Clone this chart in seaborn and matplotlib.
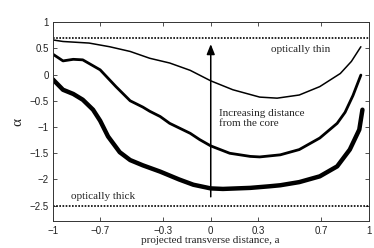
import matplotlib
matplotlib.use("Agg")
import matplotlib.pyplot as plt
import seaborn as sns
import pandas as pd

# curve data (projected transverse distance a vs alpha)
thin_x = [-1, -0.935, -0.77, -0.64, -0.51, -0.386, -0.26, -0.13, 0, 0.14, 0.31, 0.42, 0.56, 0.69, 0.82, 0.89, 0.95]
thin_y = [0.66, 0.63, 0.60, 0.53, 0.44, 0.31, 0.22, 0.08, -0.12, -0.29, -0.43, -0.45, -0.39, -0.23, 0.02, 0.25, 0.53]

medium_x = [-1, -0.935, -0.87, -0.81, -0.70, -0.60, -0.51, -0.43, -0.386, -0.32, -0.26, -0.13, -0.07, 0,
            0.12, 0.25, 0.31, 0.44, 0.56, 0.69, 0.80, 0.85, 0.90, 0.95]
medium_y = [0.39, 0.26, 0.29, 0.28, 0.09, -0.23, -0.50, -0.62, -0.70, -0.80, -0.93, -1.12, -1.24, -1.36,
            -1.50, -1.56, -1.57, -1.53, -1.43, -1.21, -0.93, -0.72, -0.40, -0.01]

thick_x = [-1, -0.935, -0.87, -0.81, -0.745, -0.70, -0.65, -0.576, -0.51, -0.43, -0.32, -0.2, -0.11, 0,
           0.077, 0.25, 0.37, 0.44, 0.56, 0.69, 0.80, 0.88, 0.94, 0.96]
thick_y = [-0.09, -0.29, -0.37, -0.48, -0.67, -0.88, -1.18, -1.48, -1.63, -1.73, -1.85, -2.0, -2.10, -2.17,
           -2.18, -2.16, -2.13, -2.11, -2.05, -1.94, -1.75, -1.43, -1.05, -0.67]

thin_limit = 0.7
thick_limit = -2.5
x_ticks = [-1, -0.7, -0.3, 0, 0.3, 0.7, 1]
y_ticks = [-2.5, -2, -1.5, -1, -0.5, 0, 0.5, 1]

sns.set_style("white")
plt.rcParams['font.family'] = ['Liberation Sans', 'DejaVu Sans']
plt.rcParams['axes.unicode_minus'] = True

fig = plt.figure(figsize=(3.74, 2.48), dpi=100)
ax = fig.add_axes([0.141, 0.107, 0.845, 0.804])

curves = [(thin_x, thin_y, 1.1), (medium_x, medium_y, 2.0), (thick_x, thick_y, 3.2)]
for xs, ys, lw in curves:
    df = pd.DataFrame({'a': xs, 'alpha': ys})
    sns.lineplot(data=df, x='a', y='alpha', ax=ax, color='black', linewidth=lw,
                 sort=False, estimator=None, solid_joinstyle='round', solid_capstyle='round')

# optically thin / thick limits
for lim in [thin_limit, thick_limit]:
    ax.axhline(lim, color='black', linewidth=1.2, linestyle=(0, (1, 0.9)))

# arrow
ax.annotate('', xy=(0, 0.58), xytext=(0, -2.33),
            arrowprops=dict(arrowstyle='-|>,head_length=0.6,head_width=0.24',
                            color='black', lw=1.1, shrinkA=0, shrinkB=0))

serif = ['Liberation Serif', 'DejaVu Serif']
ax.text(0.57, 0.48, 'optically thin', ha='center', va='center', fontsize=8, family=serif)
ax.text(-0.884, -2.33, 'optically thick', ha='left', va='center', fontsize=8, family=serif)
ax.text(0.052, -0.84, 'Increasing distance\nfrom the core', ha='left', va='center',
        fontsize=8, family=serif, linespacing=1.1)

ax.set_xlim(-1, 1)
ax.set_ylim(-2.8, 1)
ax.set_xticks(x_ticks)
ax.set_xticklabels(['\u22121', '\u22120.7', '\u22120.3', '0', '0.3', '0.7', '1'])
ax.set_yticks(y_ticks)
ax.set_yticklabels(['\u22122.5', '\u22122', '\u22121.5', '\u22121', '\u22120.5', '0', '0.5', '1'])
ax.tick_params(direction='in', length=3, width=0.6, labelsize=7, top=True, right=True,
               bottom=True, left=True, pad=3, color='#333333', labelcolor='#222222')

for sp in ax.spines.values():
    sp.set_visible(True)
    sp.set_color('#333333')
    sp.set_linewidth(0.7)

ax.set_xlabel('projected transverse distance, a', fontsize=8, family=serif, labelpad=0)
ax.set_ylabel('\u03b1', fontsize=11, family=serif, labelpad=4)

fig.savefig('out.png', dpi=100)
